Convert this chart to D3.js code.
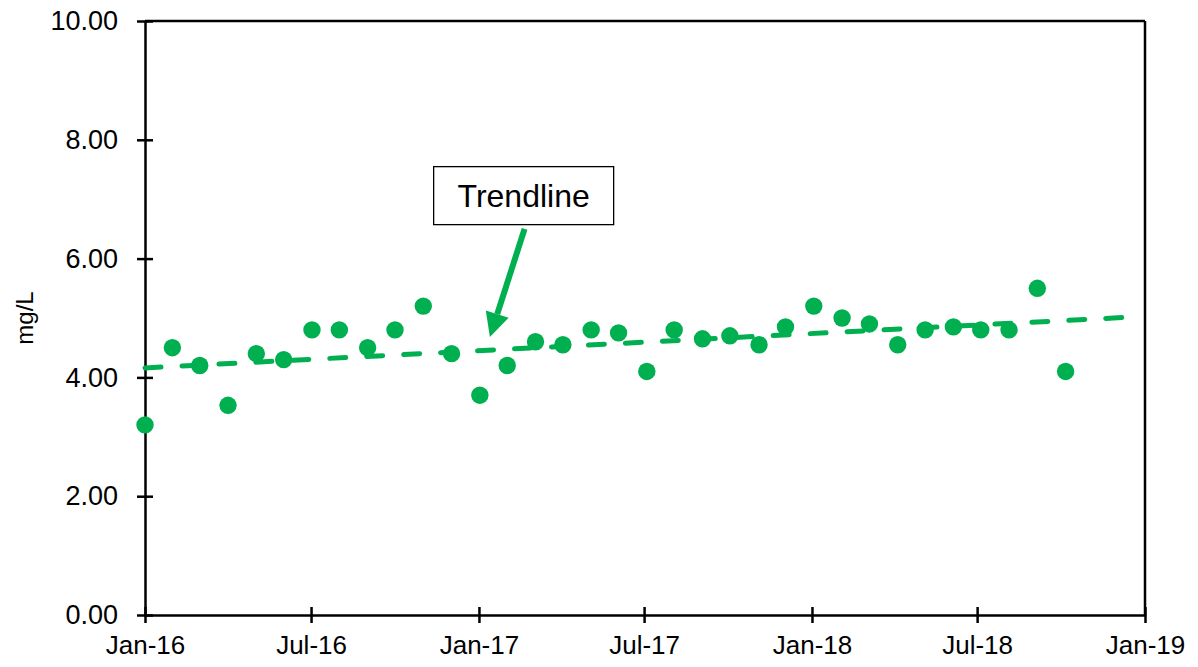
<!DOCTYPE html>
<html><head><meta charset="utf-8">
<script src="https://cdn.jsdelivr.net/npm/d3@7"></script>
<style>body{margin:0;background:#fff}svg{display:block}text{font-family:Arial,"Liberation Sans",sans-serif}</style>
</head><body><svg id="c" width="1198" height="667"></svg>
<script>
const sampleDates = ["2016-01-01","2016-01-31","2016-03-01","2016-04-01","2016-05-02","2016-06-01","2016-07-02","2016-08-01","2016-09-01","2016-10-01","2016-11-01","2016-12-02","2017-01-02","2017-02-01","2017-03-04","2017-04-03","2017-05-04","2017-06-03","2017-07-04","2017-08-03","2017-09-03","2017-10-03","2017-11-04","2017-12-03","2018-01-03","2018-02-03","2018-03-05","2018-04-05","2018-05-05","2018-06-05","2018-07-05","2018-08-05","2018-09-05","2018-10-06"];
const values = [3.2,4.5,4.2,3.53,4.4,4.3,4.8,4.8,4.5,4.8,5.2,4.4,3.7,4.2,4.6,4.55,4.8,4.75,4.1,4.8,4.65,4.7,4.55,4.85,5.2,5.0,4.9,4.55,4.8,4.85,4.8,4.8,5.5,4.1];
const trendDates = ["2016-01-01","2018-12-10"];
const trendValues = [4.16,5.01];
const xTickDates = ["2016-01-01","2016-07-01","2017-01-01","2017-07-01","2018-01-01","2018-07-01","2019-01-01"];
const xTickLabels = ["Jan-16","Jul-16","Jan-17","Jul-17","Jan-18","Jul-18","Jan-19"];
const yTicks = [0,2,4,6,8,10];
const yLabel = "mg/L";
const annotText = "Trendline";
const annotBox = {date:"2017-02-19", value:7.06};
const arrowFrom = {date:"2017-02-20", value:6.50};
const arrowTo = {date:"2017-01-13", value:4.68};

const parse = d3.utcParse("%Y-%m-%d");
const green = "#00B050";
const m = {l:145, r:1145, t:21, b:615};
const svg = d3.select("#c");
const x = d3.scaleUtc().domain([parse("2016-01-01"), parse("2019-01-01")]).range([m.l, m.r]);
const y = d3.scaleLinear().domain([0,10]).range([m.b, m.t]);

// frame top & right
svg.append("line").attr("x1",m.l).attr("x2",m.r).attr("y1",m.t).attr("y2",m.t).attr("stroke","#000").attr("stroke-width",2.5);
svg.append("line").attr("x1",m.r).attr("x2",m.r).attr("y1",m.t).attr("y2",m.b).attr("stroke","#000").attr("stroke-width",2.5);

// y axis
const ya = svg.append("g").attr("transform",`translate(${m.l},0)`)
  .call(d3.axisLeft(y).tickValues(yTicks).tickFormat(d3.format(".2f")).tickSizeInner(8).tickSizeOuter(0).tickPadding(19));
ya.selectAll(".tick line").clone().attr("x2",8);
ya.selectAll("line,path").attr("stroke","#000").attr("stroke-width",2.5);
ya.selectAll("text").attr("font-size",27).attr("fill","#000").attr("font-family","Arial, 'Liberation Sans', sans-serif");

// x axis
const xa = svg.append("g").attr("transform",`translate(0,${m.b})`)
  .call(d3.axisBottom(x).tickValues(xTickDates.map(parse)).tickFormat((d,i)=>xTickLabels[i]).tickSizeInner(8).tickSizeOuter(0).tickPadding(13));
xa.selectAll(".tick line").clone().attr("y2",-8);
xa.selectAll("line,path").attr("stroke","#000").attr("stroke-width",2.5);
xa.selectAll("text").attr("font-size",26).attr("fill","#000").attr("font-family","Arial, 'Liberation Sans', sans-serif");

// y label
svg.append("text").attr("transform",`translate(33,${(m.t+m.b)/2}) rotate(-90)`).attr("text-anchor","middle")
  .attr("font-size",24).text(yLabel);

// trendline
svg.append("path").datum(trendDates.map((d,i)=>[parse(d),trendValues[i]]))
  .attr("d", d3.line().x(d=>x(d[0])).y(d=>y(d[1])))
  .attr("stroke",green).attr("stroke-width",5).attr("fill","none")
  .attr("stroke-dasharray","16,21").attr("stroke-linecap","round");

// points
svg.append("g").selectAll("circle").data(sampleDates.map((d,i)=>({d:parse(d),v:values[i]})))
  .join("circle").attr("cx",d=>x(d.d)).attr("cy",d=>y(d.v)).attr("r",8.7).attr("fill",green);

// annotation box
const bx = x(parse(annotBox.date)), by = y(annotBox.value);
svg.append("rect").attr("x",bx-90).attr("y",by-29).attr("width",180).attr("height",58)
  .attr("fill","#fff").attr("stroke","#000").attr("stroke-width",1.3);
svg.append("text").attr("x",bx).attr("y",by+11).attr("text-anchor","middle")
  .attr("font-size",32).text(annotText);

// arrow
const ax1 = x(parse(arrowFrom.date)), ay1 = y(arrowFrom.value), ax2 = x(parse(arrowTo.date)), ay2 = y(arrowTo.value);
const ang = Math.atan2(ay2-ay1, ax2-ax1), headL = 24, headW = 12;
const bxh = ax2 - headL*Math.cos(ang), byh = ay2 - headL*Math.sin(ang);
svg.append("line").attr("x1",ax1).attr("y1",ay1).attr("x2",bxh).attr("y2",byh).attr("stroke",green).attr("stroke-width",6);
const px = -Math.sin(ang), py = Math.cos(ang);
svg.append("path").attr("d",`M${ax2},${ay2}L${bxh+px*headW},${byh+py*headW}L${bxh-px*headW},${byh-py*headW}Z`).attr("fill",green);
</script></body></html>
